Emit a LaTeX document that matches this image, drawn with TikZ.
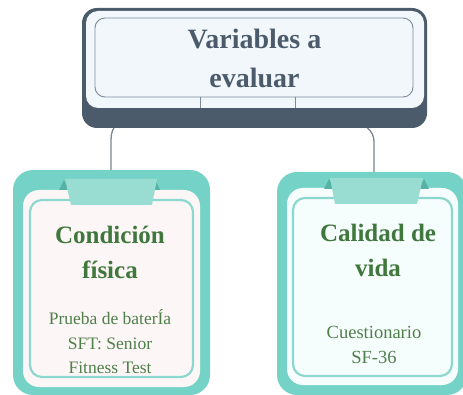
\documentclass[tikz,border=0pt]{standalone}
\usepackage{fontspec}
\setmainfont{Liberation Serif}
\definecolor{darkslate}{HTML}{4B5B6B}
\definecolor{panel}{HTML}{F2F7FC}
\definecolor{panelline}{HTML}{7D8B99}
\definecolor{conn}{HTML}{7A8591}
\definecolor{teal}{HTML}{74D3C6}
\definecolor{tabc}{HTML}{98DCD2}
\definecolor{foldc}{HTML}{57B1A4}
\definecolor{pinkw}{HTML}{FDF6F6}
\definecolor{cyanw}{HTML}{F6FDFD}
\definecolor{cardline}{HTML}{8CD8CE}
\definecolor{titlegreen}{HTML}{3F773C}
\definecolor{bodygreen}{HTML}{4F7F4B}
\tikzset{
  box/.style={rectangle, inner sep=0pt, outer sep=0pt},
  toptext/.style={font=\bfseries\fontsize{28}{39}\selectfont, text=darkslate, align=center},
  cardtitle/.style={font=\bfseries\fontsize{25}{35}\selectfont, text=titlegreen, align=center},
  cardbody/.style={font=\fontsize{17.5}{24.5}\selectfont, text=bodygreen, align=center},
  cardbodyr/.style={font=\fontsize{18.5}{25.5}\selectfont, text=bodygreen, align=center},
  connector/.style={draw=conn, line width=1.3pt},
}
\begin{document}
\begin{tikzpicture}[x=1pt,y=-1pt]
\useasboundingbox (0,0) rectangle (463,395);
% connectors (behind)
\coordinate (cl0) at (115,126);
\coordinate (cl1) at (111,180);
\coordinate (cr0) at (365,126);
\coordinate (cr1) at (374,176);
\draw[connector] (cl0) .. controls (111,132) and (111,136) .. (111,144) -- (cl1);
\draw[connector] (cr0) .. controls (373,132) and (374,136) .. (374,144) -- (cr1);
% top box
\node[box, fill=darkslate, rounded corners=15pt, minimum width=345pt, minimum height=120pt] (topouter) at (254.5,68) {};
\node[box, fill=panel, rounded corners=12pt, minimum width=338pt, minimum height=97pt] (toppanel) at (255,59.5) {};
\node[box, draw=panelline, line width=0.9pt, rounded corners=10pt, minimum width=318pt, minimum height=79pt] (topinner) at (254,57.5) {};
\coordinate (t1a) at (200,97.5);
\coordinate (t1b) at (200,108);
\coordinate (t2a) at (295,97.5);
\coordinate (t2b) at (295,108);
\draw[panelline, line width=0.9pt] (t1a) -- (t1b);
\draw[panelline, line width=0.9pt] (t2a) -- (t2b);
\node[toptext] (toptxt) at (254.5,58.5) {Variables a\\evaluar};
% left card
\node[box, fill=teal, rounded corners=20pt, minimum width=197pt, minimum height=225pt] (louter) at (111.5,282.5) {};
\node[box, fill=pinkw, rounded corners=16pt, minimum width=177pt, minimum height=197pt] (llight) at (111.5,288.5) {};
\node[box, draw=cardline, line width=2.2pt, rounded corners=12pt, minimum width=163pt, minimum height=177pt] (lborder) at (111.5,288.5) {};
\fill[foldc] (59,190) -- (64,180) -- (69,190) -- cycle;
\fill[foldc] (150,190) -- (155,180) -- (160,190) -- cycle;
\fill[tabc] (65,179) -- (157,179) -- (152,205) -- (71,205) -- cycle;
\node[cardtitle] (ltitle) at (110,252) {Condición\\física};
\node[cardbody] (lbody) at (110,342) {Prueba de baterÍa\\SFT: Senior\\Fitness Test};
% right card
\node[box, fill=teal, rounded corners=20pt, minimum width=190pt, minimum height=223pt] (router) at (372,283.5) {};
\node[box, fill=cyanw, rounded corners=16pt, minimum width=171pt, minimum height=197pt] (rlight) at (372.5,286.5) {};
\node[box, draw=cardline, line width=2.2pt, rounded corners=12pt, minimum width=159pt, minimum height=178pt] (rborder) at (372.5,287) {};
\fill[foldc] (324,189) -- (329,179) -- (334,189) -- cycle;
\fill[foldc] (419,189) -- (424,179) -- (429,189) -- cycle;
\fill[tabc] (330,178) -- (423,178) -- (417,204) -- (335,204) -- cycle;
\node[cardtitle] (rtitle) at (378,250) {Calidad de\\vida};
\node[cardbodyr] (rbody) at (374,345) {Cuestionario\\SF-36};
\end{tikzpicture}
\end{document}
